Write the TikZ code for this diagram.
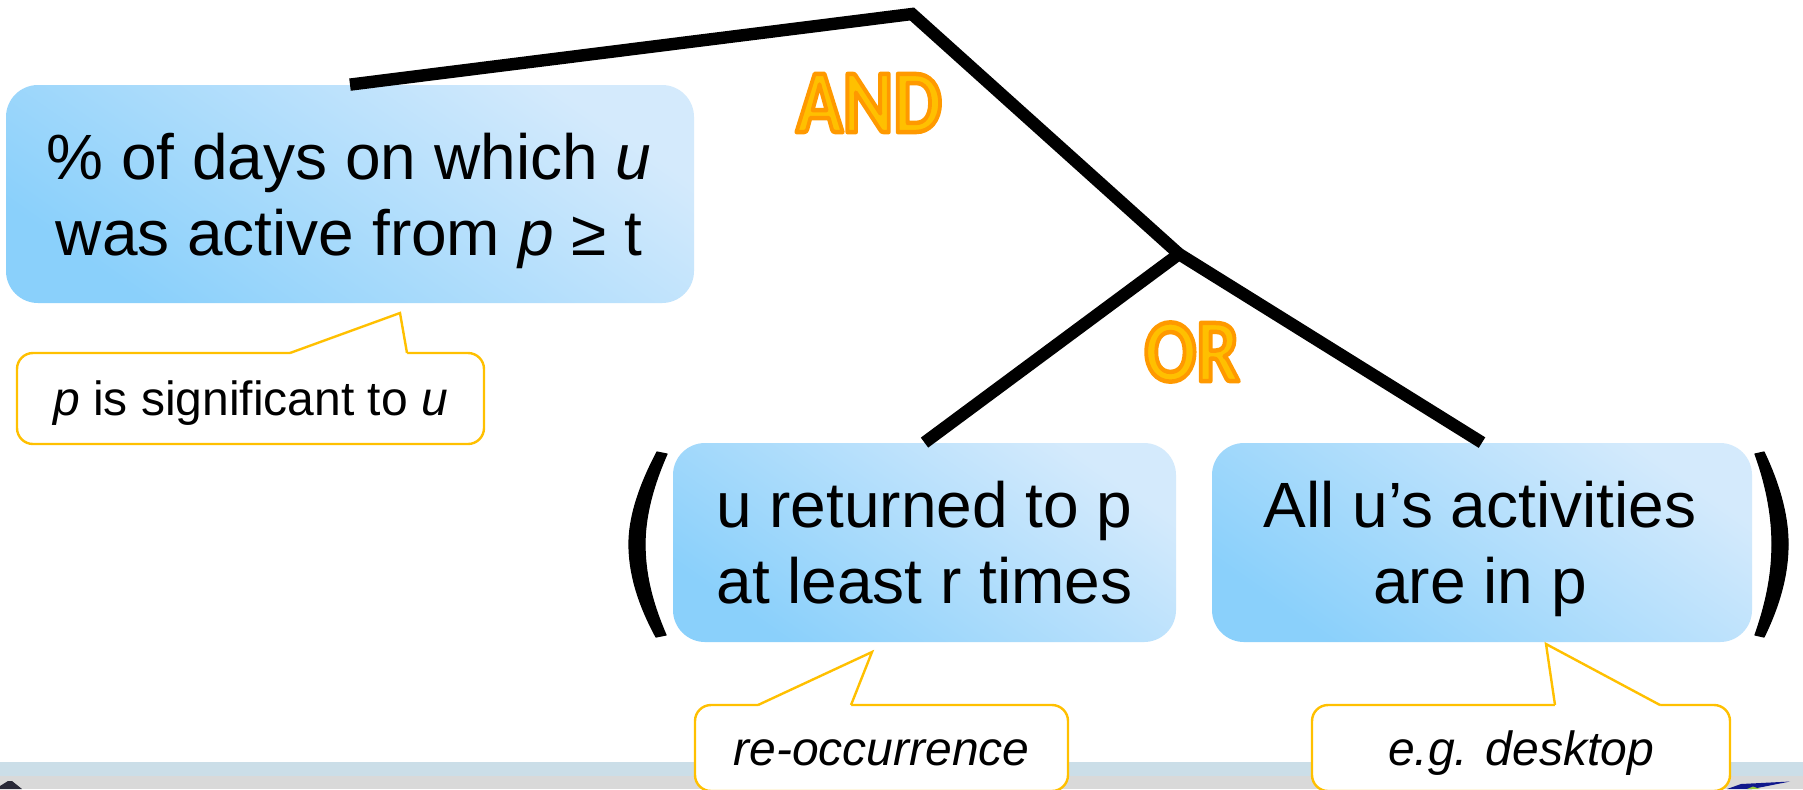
\documentclass[tikz,border=0pt]{standalone}
\usepackage{fontspec}
\setmainfont{Liberation Sans}
\newfontfamily\gatefont{Carlito}
\usetikzlibrary{calc}

\definecolor{boxlight}{RGB}{212,234,252}
\definecolor{boxdeep}{RGB}{138,208,251}
\definecolor{gatefill}{RGB}{255,192,0}
\definecolor{noteline}{RGB}{255,192,0}
\definecolor{barblue}{RGB}{203,222,232}
\definecolor{bargray}{RGB}{217,217,217}
\definecolor{logonavy}{RGB}{16,24,140}
\definecolor{logogreen}{RGB}{150,200,60}
\definecolor{logodark}{RGB}{40,40,55}

% gold word with an orange stroked rim (PDF text render mode 2), set a little tall
\newcommand\gateword[1]{\scalebox{0.96}[1.12]{{\color{gatefill}%
  \special{pdf:code 2 Tr 1 0.6 0 RG 2 w 1 j}#1\special{pdf:code 0 Tr}}}}

\begin{document}
\begin{tikzpicture}[x=0.5pt,y=-0.5pt,
  condbox/.style={rectangle, rounded corners=16pt, inner sep=0pt,
    top color=boxlight, bottom color=boxdeep, shading angle=-35},
  condtext/.style={align=center, inner sep=0pt, text=black,
    font=\fontsize{32pt}{38pt}\selectfont},
  notebox/.style={rectangle, rounded corners=8pt, draw=noteline, line width=1.2pt,
    fill=white, inner sep=0pt, text height=17pt, text depth=0pt,
    font=\fontsize{24pt}{29pt}\selectfont},
  noteedge/.style={draw=noteline, line width=1.2pt, line join=miter},
  treeline/.style={line width=6.2pt, line cap=butt, line join=miter},
  paren/.style={fill=black, draw=black, line width=0.6pt, line join=round},
  gatelabel/.style={inner sep=0pt, font=\gatefont\bfseries\fontsize{40pt}{44pt}\selectfont}]

\useasboundingbox (0,0) rectangle (1803,789);
\clip (0,0) rectangle (1803,789);
\fill[white] (0,0) rectangle (1803,789);

% footer band and logo fragments
\fill[barblue] (0,762) rectangle (1803,776);
\fill[bargray] (0,776) rectangle (1803,789);
\fill[logodark] (0,786) -- (8,781) -- (12,781) -- (22,789) -- (0,789) -- cycle;

% condition boxes
\node[condbox, minimum width=344pt, minimum height=109pt] (box1) at (350,194) {};
\node[condbox, minimum width=251.5pt, minimum height=99.5pt] (box2) at (924.5,542.5) {};
\node[condbox, minimum width=270pt, minimum height=99.5pt] (box3) at (1482,542.5) {};

\node[condtext] (t1) at (349,201) {\% of days on which \textit{u}\\was active from \textit{p} ≥ t};
\node[condtext] (t2) at (924.5,542.5) {u returned to p\\at least r times};
\node[condtext] (t3) at (1480,549) {All u’s activities\\are in p};

% brackets round the OR group
\path[paren] (657,452) .. controls (637,490) and (629,520) .. (629,544)
  .. controls (629,570) and (636,600) .. (656,637) -- (666,635)
  .. controls (650,598) and (645,570) .. (645,544)
  .. controls (645,520) and (651,490) .. (667,454) -- cycle;
\path[paren] (1764,452) .. controls (1782,490) and (1788,520) .. (1788,544)
  .. controls (1788,570) and (1782,600) .. (1764,637) -- (1755,635)
  .. controls (1768,598) and (1772,570) .. (1772,544)
  .. controls (1772,520) and (1768,490) .. (1755,454) -- cycle;

% logic tree
\coordinate (apex) at (912,14);
\coordinate (orjoin) at (1179,254);
\draw[treeline] (box1.north) -- (apex) -- (orjoin);
\draw[treeline] (box2.north) -- (orjoin) -- (box3.north);

\node[gatelabel] (andlbl) at (869,103) {\gateword{AND}};
\node[gatelabel] (orlbl) at (1192,352) {\gateword{OR}};

% remarks
\node[notebox, minimum width=233.5pt, minimum height=45.5pt] (n1) at (250.5,398.5)
  {\textit{p} is significant to \textit{u}};
\node[notebox, minimum width=186.5pt, minimum height=43pt] (n2) at (881.5,748)
  {\textit{re-occurrence}};
\node[notebox, minimum width=209pt, minimum height=43pt] (n3) at (1521,748)
  {\textit{e.g. desktop}};

\fill[white] (290,356) -- (290,353) -- (400,313) -- (407,353) -- (407,356) -- cycle;
\draw[noteedge] (290,353) -- (400,313) -- (407,353);
\fill[white] (758,708) -- (758,705) -- (872,652) -- (851,705) -- (851,708) -- cycle;
\draw[noteedge] (758,705) -- (872,652) -- (851,705);
\fill[white] (1555,708) -- (1555,705) -- (1546,644) -- (1660,705) -- (1660,708) -- cycle;
\draw[noteedge] (1555,705) -- (1546,644) -- (1660,705);

\fill[logonavy] (1727,789) -- (1741,784) -- (1790,781.5) -- (1752,789) -- cycle;
\fill[logogreen] (1747,789) -- (1753,786.5) -- (1760,789) -- cycle;
\end{tikzpicture}
\end{document}
